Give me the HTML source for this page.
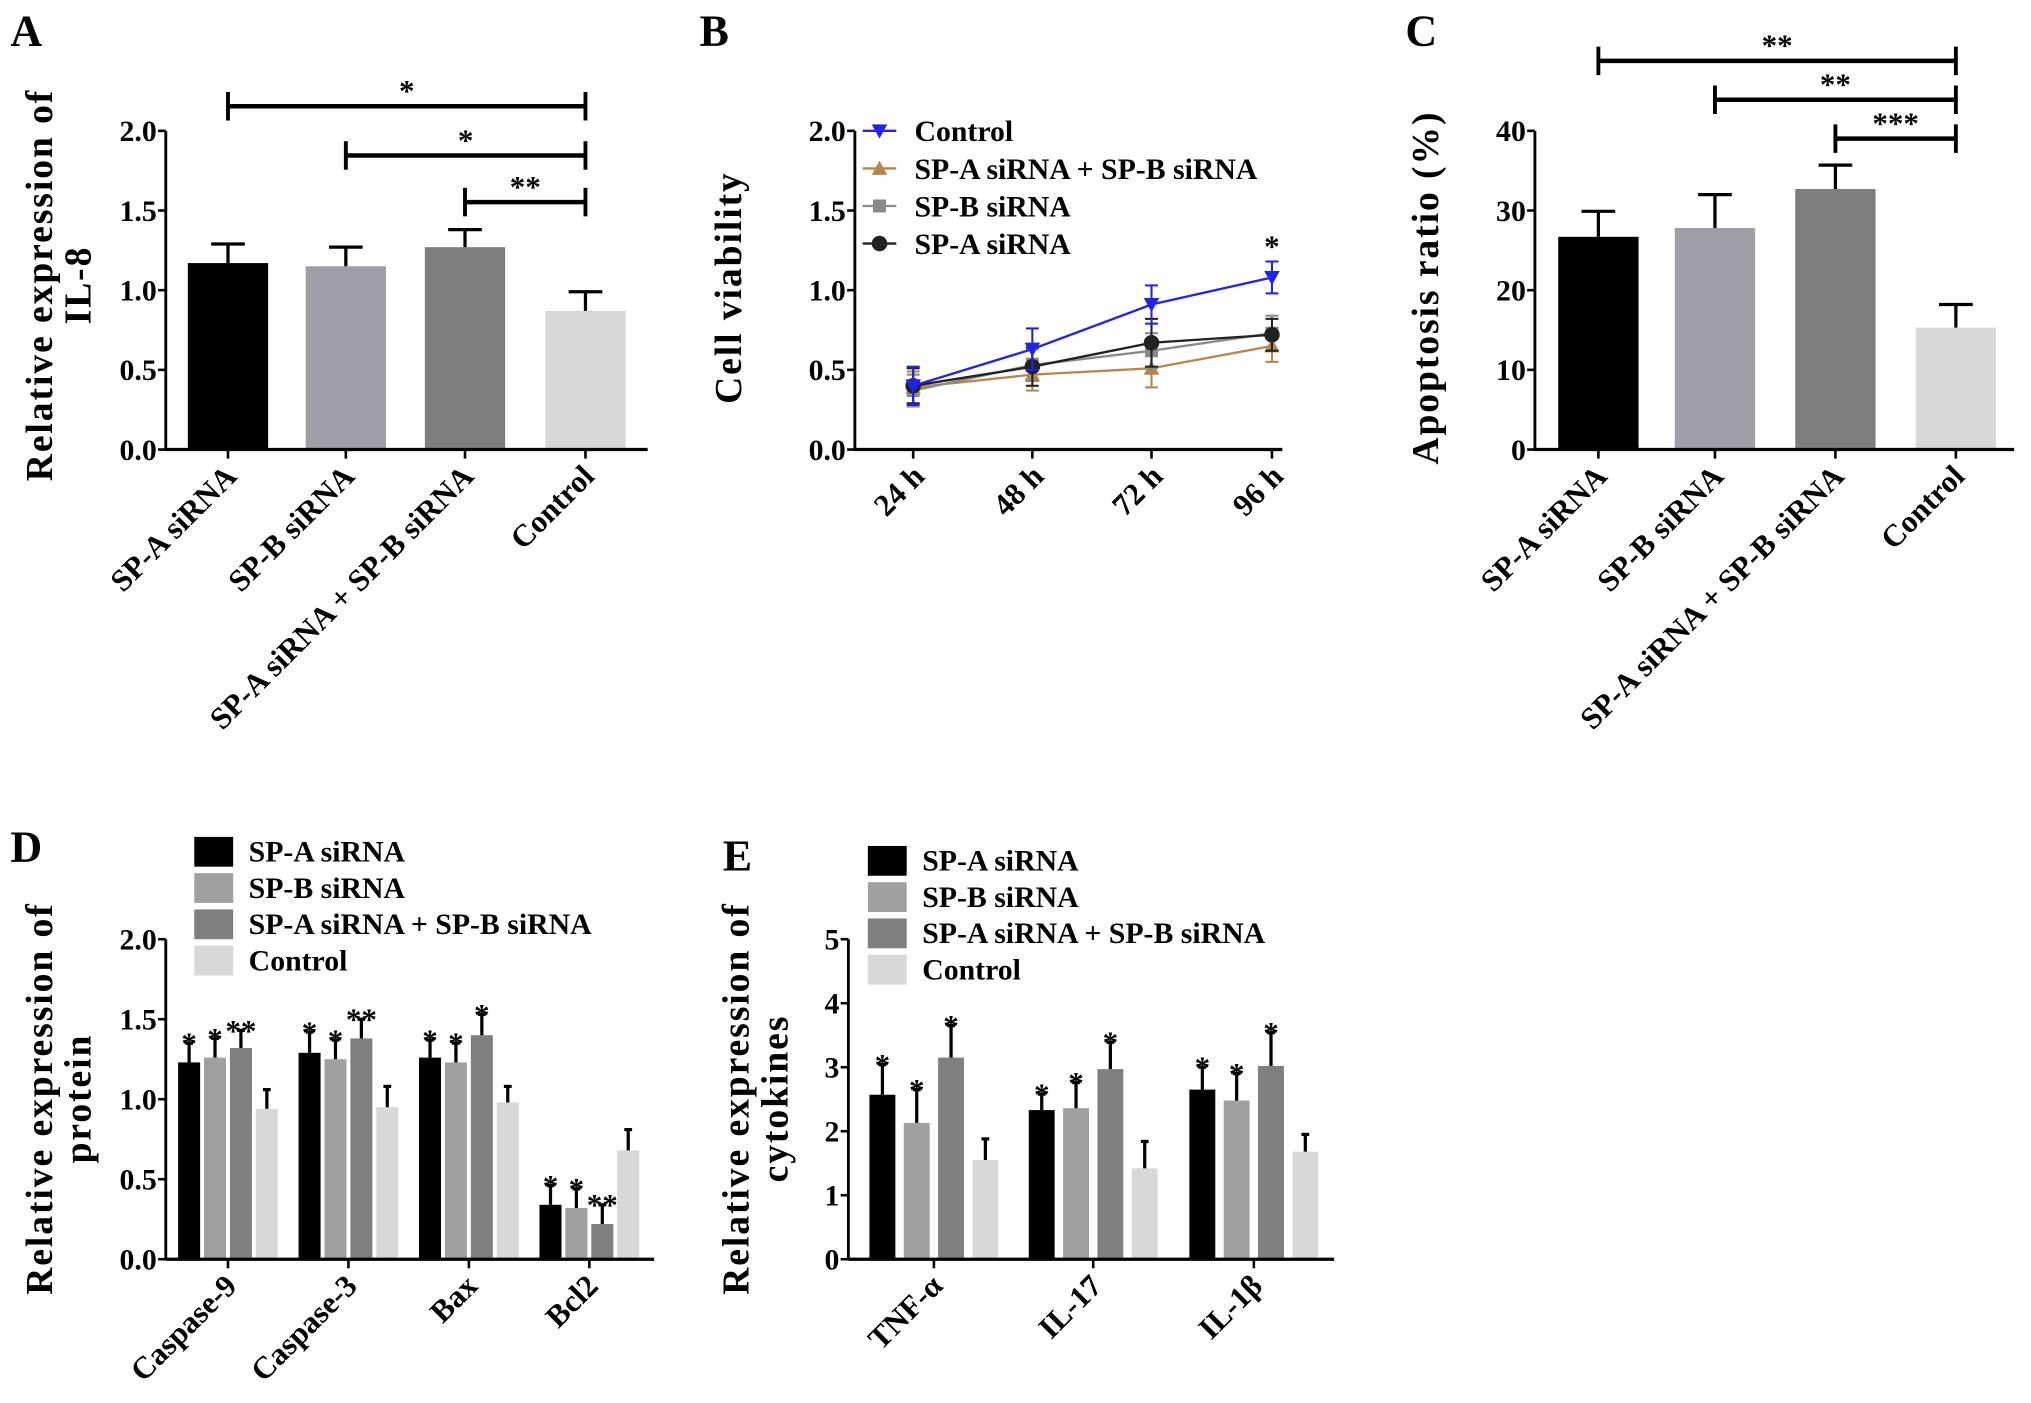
<!DOCTYPE html>
<html><head><meta charset="utf-8"><style>
html,body{margin:0;padding:0;background:#fff}
svg{display:block;font-family:"Liberation Serif",serif;font-weight:bold}
</style></head><body>
<svg id="fig" width="2031" height="1403" viewBox="0 0 1568 1083" preserveAspectRatio="none" xmlns="http://www.w3.org/2000/svg"></svg>
<script>
// Panel A
const aCats=["SP-A siRNA","SP-B siRNA","SP-A siRNA + SP-B siRNA","Control"];
const aVals=[1.17,1.15,1.27,0.87];
const aErr=[0.12,0.12,0.11,0.12];
const aTicks=["0.0","0.5","1.0","1.5","2.0"];
// Panel B
const bTimes=["24 h","48 h","72 h","96 h"];
const bControl=[0.40,0.63,0.91,1.08];
const bControlErr=[0.12,0.13,0.12,0.10];
const bCombo=[0.39,0.47,0.51,0.65];
const bComboErr=[0.10,0.10,0.12,0.10];
const bSPB=[0.37,0.53,0.62,0.73];
const bSPBErr=[0.10,0.10,0.11,0.11];
const bSPA=[0.40,0.52,0.67,0.72];
const bSPAErr=[0.11,0.12,0.15,0.10];
// Panel C
const cVals=[26.7,27.8,32.7,15.3];
const cErr=[3.2,4.2,3.0,2.9];
const cTicks=["0","10","20","30","40"];
// Panel D
const dCats=["Caspase-9","Caspase-3","Bax","Bcl2"];
const dSPA=[1.23,1.29,1.26,0.34];
const dSPB=[1.26,1.25,1.23,0.32];
const dCombo=[1.32,1.38,1.40,0.22];
const dCtrl=[0.94,0.95,0.98,0.68];
const dErr=[[0.12,0.13,0.11,0.12],[0.12,0.12,0.12,0.12],[0.11,0.12,0.13,0.12],[0.12,0.13,0.10,0.13]];
const dStars=[["*","*","**",""],["*","*","**",""],["*","*","*",""],["*","*","**",""]];
// Panel E
const eCats=["TNF-α","IL-17","IL-1β"];
const eSPA=[2.57,2.33,2.65];
const eSPB=[2.13,2.36,2.48];
const eCombo=[3.15,2.97,3.02];
const eCtrl=[1.55,1.42,1.68];
const eErr=[[0.47,0.25,0.35],[0.52,0.40,0.42],[0.50,0.42,0.52],[0.33,0.42,0.27]];
const eTicks=["0","1","2","3","4","5"];

const NS="http://www.w3.org/2000/svg";
const svg=document.getElementById('fig');
function mk(tag,attrs,parent,txt){const e=document.createElementNS(NS,tag);for(const k in attrs)e.setAttribute(k,attrs[k]);if(txt!==undefined)e.textContent=txt;(parent||svg).appendChild(e);return e;}
function line(x1,y1,x2,y2,stroke,w,name,p){const e=mk('line',{x1,y1,x2,y2,stroke,'stroke-width':w},p);

return e;}
function text(x,y,s,size,anchor,name,p,extra){const a={x,y,'font-size':size,'text-anchor':anchor||'start'};Object.assign(a,extra||{});const e=mk('text',a,p,s);

return e;}
function rect(x,y,w,h,fill,name,p){const e=mk('rect',{x,y,width:w,height:h,fill},p);

return e;}
function group(name){const g=mk('g',{});

return g;}

function yAxis(g,x,y0,y1,ticks,name){
  line(x,y0+1,x,y1,'#000',2.2,name+'-y-axis-line',g);
  ticks.forEach((t,i)=>{const y=y0-(y0-y1)*i/(ticks.length-1);
    line(x-6,y,x,y,'#000',2,name+'-y-tick',g);
    text(x-7,y+8,t,23,'end',name+'-y-tick-label',g);});
}
function errBar(g,x,y,ye,cap,color,name){line(x,y,x,ye,color,2.5,name,g);line(x-cap,ye,x+cap,ye,color,2.5,name+'-cap',g);}
function ytitle(g,cx,cy,lines,name){const t=mk('text',{transform:`translate(${cx},${cy}) rotate(-90)`,'font-size':29,'text-anchor':'middle','letter-spacing':1.5},g);


lines.forEach((l,i)=>{const ts=mk('tspan',{x:0,dy:i?30:0},t,l);});}
function rotLabel(g,x,y,s,name,size){const e=mk('text',{transform:`translate(${x},${y}) rotate(-45)`,'font-size':size||24,'text-anchor':'end'},g,s);

}
function sigBar(g,x1,x2,y,s,name){line(x1,y,x2,y,'#000',3.5,name,g);line(x1,y-11,x1,y+11,'#000',3,name+'-end',g);line(x2,y-11,x2,y+11,'#000',3,name+'-end',g);text((x1+x2)/2,y-4,s,24,'middle',name+'-label',g);}

const cols4=['#000','#9e9ea6','#7d7d7d','#d7d7d7'];
const colsDE=['#000','#a0a0a0','#7f7f7f','#d8d8d8'];

// ===== Panel A =====
(function(){const g=group('panel-a');
text(8,35,'A',34,'start','panel-a-letter',g);
const x0=128,y0=347,yTop=101,max=2;const Y=v=>y0-(y0-yTop)*v/max;
const cx=[176,267,359,452];
aVals.forEach((v,i)=>{rect(cx[i]-31,Y(v),62,y0-Y(v),cols4[i],'bar-a-'+i,g);errBar(g,cx[i],Y(v),Y(v+aErr[i]),13,'#000','error-bar-a');});
line(x0,y0,500,y0,'#000',2.5,'panel-a-x-axis',g);
cx.forEach((x,i)=>{line(x,y0,x,y0+7,'#000',2,'x-tick-a',g);rotLabel(g,x+8,y0+22,aCats[i],'x-label-a-'+i);});
yAxis(g,x0,y0,yTop,aTicks,'panel-a');
ytitle(g,40,220,['Relative expression of','IL-8'],'panel-a-y-axis-title');
sigBar(g,cx[0],cx[3],82,'*','sig-bar-a-1');sigBar(g,cx[1],cx[3],120,'*','sig-bar-a-2');sigBar(g,cx[2],cx[3],156,'**','sig-bar-a-3');
})();

// ===== Panel B =====
(function(){const g=group('panel-b');
text(540,35,'B',34,'start','panel-b-letter',g);
const x0=660,y0=347,yTop=101,max=2;const Y=v=>y0-(y0-yTop)*v/max;
const xs=[705,797,889,982];
line(x0,y0,990,y0,'#000',2.5,'panel-b-x-axis',g);
xs.forEach((x,i)=>{line(x,y0,x,y0+7,'#000',2,'x-tick-b',g);rotLabel(g,x+10,y0+22,bTimes[i],'x-label-b-'+i);});
yAxis(g,x0,y0,yTop,aTicks,'panel-b');
ytitle(g,572,222,['Cell viability'],'panel-b-y-axis-title');
const series=[[bCombo,bComboErr,'#b5874a','tri','combo'],[bSPB,bSPBErr,'#8a8a8a','sq','spb'],[bSPA,bSPAErr,'#222','circ','spa'],[bControl,bControlErr,'#2323e8','tridown','control']];
function marker(x,y,t,c,name){let e;
 if(t==='tri')e=mk('polygon',{points:`${x},${y-6} ${x-6},${y+5} ${x+6},${y+5}`,fill:c},g);
 else if(t==='tridown')e=mk('polygon',{points:`${x},${y+6} ${x-6},${y-5} ${x+6},${y-5}`,fill:c},g);
 else if(t==='sq')e=mk('rect',{x:x-5,y:y-5,width:10,height:10,fill:c},g);
 else e=mk('circle',{cx:x,cy:y,r:6,fill:c},g);
 
 }
series.forEach(([vals,errs,c,t,n])=>{
 vals.forEach((v,i)=>{line(xs[i],Y(v-errs[i]),xs[i],Y(v+errs[i]),c,1.6,'error-bar-b-'+n,g);line(xs[i]-5,Y(v+errs[i]),xs[i]+5,Y(v+errs[i]),c,1.6,'cap-b',g);line(xs[i]-5,Y(v-errs[i]),xs[i]+5,Y(v-errs[i]),c,1.6,'cap-b',g);});
 const p=mk('polyline',{points:vals.map((v,i)=>xs[i]+','+Y(v)).join(' '),fill:'none',stroke:c,'stroke-width':1.8},g);
 
 
 vals.forEach((v,i)=>marker(xs[i],Y(v),t,c,'point-b-'+n));});
text(xs[3],Y(bControl[3]+bControlErr[3])-4,'*',24,'middle','sig-star-b',g);
const leg=[['Control','#2323e8','tridown'],['SP-A siRNA + SP-B siRNA','#b5874a','tri'],['SP-B siRNA','#8a8a8a','sq'],['SP-A siRNA','#222','circ']];
leg.forEach(([s,c,t],i)=>{const y=101+i*29;line(666,y,692,y,c,1.8,'legend-line-b',g);marker(679,y,t,c,'legend-marker-b');text(706,y+8,s,23,'start','legend-label-b-'+i,g);});
})();

// ===== Panel C =====
(function(){const g=group('panel-c');
text(1085,35,'C',34,'start','panel-c-letter',g);
const x0=1185,y0=347,yTop=101,max=40;const Y=v=>y0-(y0-yTop)*v/max;
const cx=[1234,1324,1417,1510];
cVals.forEach((v,i)=>{rect(cx[i]-31,Y(v),62,y0-Y(v),cols4[i],'bar-c-'+i,g);errBar(g,cx[i],Y(v),Y(v+cErr[i]),13,'#000','error-bar-c');});
line(x0,y0,1555,y0,'#000',2.5,'panel-c-x-axis',g);
cx.forEach((x,i)=>{line(x,y0,x,y0+7,'#000',2,'x-tick-c',g);rotLabel(g,x+8,y0+22,aCats[i],'x-label-c-'+i);});
yAxis(g,x0,y0,yTop,cTicks,'panel-c');
ytitle(g,1110,222,['Apoptosis ratio (%)'],'panel-c-y-axis-title');
sigBar(g,cx[0],cx[3],47,'**','sig-bar-c-1');sigBar(g,cx[1],cx[3],77,'**','sig-bar-c-2');sigBar(g,cx[2],cx[3],107,'***','sig-bar-c-3');
})();

// ===== Panel D =====
(function(){const g=group('panel-d');
text(8,665,'D',34,'start','panel-d-letter',g);
const x0=128,y0=972,yTop=725,max=2;const Y=v=>y0-(y0-yTop)*v/max;
const centers=[176,269,362,455];const bw=17,step=20;
const series=[dSPA,dSPB,dCombo,dCtrl];
series.forEach((vals,s)=>vals.forEach((v,i)=>{const x=centers[i]+(s-1.5)*step;
 rect(x-bw/2,Y(v),bw,y0-Y(v),colsDE[s],'bar-d-'+s+'-'+i,g);errBar(g,x,Y(v),Y(v+dErr[s][i]),3,'#000','error-bar-d');
 if(dStars[i][s])text(x,Y(v+dErr[s][i])+10,dStars[i][s],24,'middle','sig-star-d',g,{dy:-2});}));
line(x0,y0,505,y0,'#000',2.5,'panel-d-x-axis',g);
centers.forEach((x,i)=>{line(x,y0,x,y0+7,'#000',2,'x-tick-d',g);rotLabel(g,x+8,y0+22,dCats[i],'x-label-d-'+i);});
yAxis(g,x0,y0,yTop,aTicks,'panel-d');
ytitle(g,40,848,['Relative expression of','protein'],'panel-d-y-axis-title');
['SP-A siRNA','SP-B siRNA','SP-A siRNA + SP-B siRNA','Control'].forEach((s,i)=>{const y=657+i*28;rect(150,y-11,30,23,colsDE[i],'legend-swatch-d',g);text(192,y+8,s,23,'start','legend-label-d-'+i,g);});
})();

// ===== Panel E =====
(function(){const g=group('panel-e');
text(558,672,'E',34,'start','panel-e-letter',g);
const x0=655,y0=972,yTop=725,max=5;const Y=v=>y0-(y0-yTop)*v/max;
const centers=[721,844,968];const bw=20,step=26.5;
const series=[eSPA,eSPB,eCombo,eCtrl];
series.forEach((vals,s)=>vals.forEach((v,i)=>{const x=centers[i]+(s-1.5)*step;
 rect(x-bw/2,Y(v),bw,y0-Y(v),colsDE[s],'bar-e-'+s+'-'+i,g);errBar(g,x,Y(v),Y(v+eErr[s][i]),3,'#000','error-bar-e');
 if(s<3)text(x,Y(v+eErr[s][i])+8,'*',24,'middle','sig-star-e',g);}));
line(x0,y0,1030,y0,'#000',2.5,'panel-e-x-axis',g);
centers.forEach((x,i)=>{line(x,y0,x,y0+7,'#000',2,'x-tick-e',g);rotLabel(g,x+8,y0+22,eCats[i],'x-label-e-'+i);});
yAxis(g,x0,y0,yTop,eTicks,'panel-e');
ytitle(g,578,848,['Relative expression of','cytokines'],'panel-e-y-axis-title');
['SP-A siRNA','SP-B siRNA','SP-A siRNA + SP-B siRNA','Control'].forEach((s,i)=>{const y=664+i*28;rect(670,y-11,30,23,colsDE[i],'legend-swatch-e',g);text(712,y+8,s,23,'start','legend-label-e-'+i,g);});
})();
</script>
</body></html>
